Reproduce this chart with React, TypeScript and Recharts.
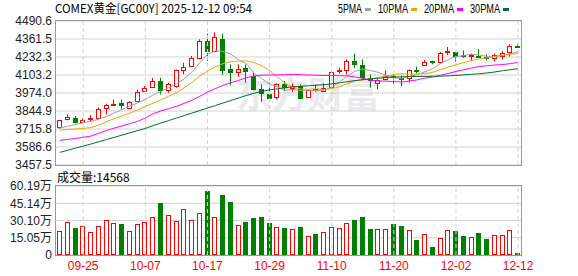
import React from 'react';
import { ComposedChart, Bar, Line, XAxis, YAxis, CartesianGrid, ReferenceLine } from 'recharts';

const dates = [
  '09-22', '09-23', '09-24', '09-25', '09-26', '09-29', '09-30', '10-01', '10-02', '10-03',
  '10-06', '10-07', '10-08', '10-09', '10-10', '10-13', '10-14', '10-15', '10-16', '10-17',
  '10-20', '10-21', '10-22', '10-23', '10-24', '10-27', '10-28', '10-29', '10-30', '10-31',
  '11-03', '11-04', '11-05', '11-06', '11-07', '11-10', '11-11', '11-12', '11-13', '11-14',
  '11-17', '11-18', '11-19', '11-20', '11-21', '11-24', '11-25', '11-26', '11-27', '11-28',
  '12-01', '12-02', '12-03', '12-04', '12-05', '12-08', '12-09', '12-10', '12-11', '12-12',
];

const opens = [
  3730, 3790, 3797, 3770, 3782, 3797, 3864, 3890, 3900, 3869,
  3921, 3988, 4017, 4062, 3996, 4024, 4136, 4168, 4227, 4347,
  4272, 4365, 4143, 4125, 4151, 4096, 4005, 3969, 3950, 4036,
  4007, 4024, 3945, 4005, 3993, 4017, 4132, 4136, 4204, 4175,
  4084, 4048, 4072, 4096, 4082, 4077, 4136, 4175, 4206, 4197,
  4268, 4270, 4244, 4235, 4240, 4232, 4222, 4244, 4270, 4313,
];
const closes = [
  3780, 3802, 3770, 3782, 3792, 3861, 3888, 3897, 3885, 3910,
  3983, 4012, 4062, 3996, 4041, 4136, 4161, 4227, 4347, 4273,
  4376, 4143, 4125, 4148, 4132, 4000, 3976, 3940, 4041, 4012,
  4024, 3940, 3993, 3998, 4012, 4125, 4136, 4204, 4179, 4089,
  4069, 4069, 4093, 4089, 4075, 4136, 4132, 4199, 4197, 4263,
  4275, 4244, 4237, 4244, 4235, 4227, 4244, 4263, 4313, 4308,
];
const highs = [
  3782, 3821, 3809, 3792, 3816, 3869, 3897, 3926, 3926, 3917,
  3998, 4024, 4082, 4084, 4048, 4143, 4191, 4240, 4359, 4400,
  4409, 4400, 4179, 4179, 4179, 4127, 4036, 4048, 4043, 4060,
  4043, 4036, 3993, 4036, 4043, 4132, 4156, 4215, 4256, 4215,
  4108, 4077, 4136, 4108, 4100, 4143, 4163, 4211, 4206, 4268,
  4304, 4270, 4280, 4256, 4290, 4251, 4256, 4275, 4323, 4323,
];
const lows = [
  3718, 3778, 3756, 3766, 3773, 3792, 3821, 3883, 3854, 3861,
  3917, 3983, 4012, 3964, 3976, 4012, 4108, 4161, 4220, 4204,
  4268, 4103, 4029, 4089, 4048, 3993, 3912, 3933, 3928, 3988,
  3983, 3940, 3940, 3983, 3988, 4012, 4113, 4108, 4151, 4072,
  4012, 4000, 4064, 4041, 4024, 4048, 4115, 4172, 4179, 4191,
  4247, 4199, 4227, 4204, 4232, 4208, 4199, 4215, 4235, 4299,
];

// 成交量 (万)
const volumes = [
  20.9, 28.8, 23.6, 25.0, 20.1, 25.0, 30.3, 27.9, 27.0, 20.7,
  27.0, 28.8, 32.9, 45.4, 34.6, 29.4, 39.9, 30.3, 36.4, 55.8,
  32.9, 52.3, 46.2, 25.9, 28.8, 32.3, 32.9, 28.2, 24.2, 23.6,
  22.4, 24.4, 16.6, 18.6, 20.1, 24.4, 23.3, 27.9, 30.5, 33.1,
  22.7, 22.4, 22.4, 27.0, 25.3, 21.5, 13.1, 18.1, 7.0, 14.6,
  21.5, 20.9, 16.6, 15.4, 19.2, 14.0, 17.2, 17.2, 21.5, 1.46,
];

const ma5 = [
  3723, 3735, 3748, 3760, 3772, 3786, 3806, 3830, 3855, 3880,
  3903, 3928, 3960, 3985, 4012, 4040, 4075, 4125, 4190, 4250,
  4277, 4273, 4252, 4213, 4185, 4115, 4076, 4039, 4018, 3994,
  3999, 3991, 3990, 3992, 3993, 4014, 4053, 4095, 4131, 4146,
  4135, 4122, 4100, 4082, 4079, 4092, 4105, 4126, 4148, 4185,
  4213, 4235, 4243, 4252, 4247, 4237, 4237, 4243, 4256, 4271,
];
const ma10 = [
  3708, 3712, 3716, 3720, 3726, 3745, 3768, 3790, 3810, 3830,
  3852, 3878, 3900, 3925, 3950, 3976, 4010, 4050, 4095, 4132,
  4160, 4185, 4198, 4203, 4205, 4192, 4170, 4135, 4090, 4042,
  4015, 4003, 4000, 4005, 3998, 4006, 4020, 4040, 4062, 4068,
  4075, 4085, 4097, 4105, 4113, 4108, 4110, 4114, 4122, 4142,
  4160, 4177, 4192, 4207, 4219, 4226, 4234, 4244, 4252, 4257,
];
const ma20 = [
  3634, 3641, 3648, 3656, 3665, 3685, 3705, 3722, 3738, 3754,
  3770, 3795, 3825, 3845, 3862, 3878, 3900, 3922, 3950, 3980,
  4005, 4029, 4048, 4064, 4084, 4096, 4102, 4103, 4104, 4105,
  4108, 4105, 4103, 4102, 4100, 4100, 4098, 4097, 4089, 4080,
  4064, 4061, 4059, 4056, 4053, 4060, 4068, 4081, 4088, 4101,
  4114, 4129, 4141, 4153, 4164, 4169, 4175, 4178, 4185, 4193,
];
const ma30 = [
  3548, 3563, 3578, 3593, 3608, 3624, 3640, 3656, 3672, 3688,
  3704, 3720, 3740, 3758, 3776, 3794, 3812, 3830, 3848, 3866,
  3884, 3902, 3920, 3938, 3956, 3972, 3986, 3996, 4004, 4012,
  4018, 4022, 4026, 4030, 4034, 4040, 4047, 4055, 4063, 4070,
  4076, 4080, 4085, 4088, 4090, 4092, 4093, 4093, 4094, 4095,
  4097, 4100, 4104, 4108, 4112, 4118, 4125, 4134, 4141, 4148,
];

const priceTicks = [3457.5, 3586.6, 3715.8, 3844.9, 3974.0, 4103.2, 4232.3, 4361.5, 4490.6];
const volTicks = [0, 15.05, 30.10, 45.14, 60.19];
const dateTicks = ['09-25', '10-07', '10-17', '10-29', '11-10', '11-20', '12-02', '12-12'];

const title = 'COMEX黄金[GC00Y] 2025-12-12 09:54';
const lastVolume = 14568;

const maSeries = [
  { key: 'ma5', name: '5PMA', color: '#a0a0a0' },
  { key: 'ma10', name: '10PMA', color: '#f5a300' },
  { key: 'ma20', name: '20PMA', color: '#ff00ff' },
  { key: 'ma30', name: '30PMA', color: '#006e35' },
];

const UP = '#ff0000';
const DOWN = '#008000';
const GRID = '#d2d2d2';
const FRAME = '#999999';

const W = 578;
const PLOT_L = 56;
const PLOT_R = 56;
const MAIN_H = 182;
const MAIN_TOP = 21;
const MAIN_BOTTOM = 17; // plot bottom at y=165, room left for the last tick label
const VOL_Y = 170;
const VOL_H = 106;
const VOL_TOP = 16;
const VOL_AXIS_H = 21;

const rows = dates.map((date, i) => ({
  date,
  open: opens[i],
  close: closes[i],
  high: highs[i],
  low: lows[i],
  range: [lows[i], highs[i]],
  vol: volumes[i],
  up: closes[i] >= opens[i],
  ma5: ma5[i],
  ma10: ma10[i],
  ma20: ma20[i],
  ma30: ma30[i],
}));

const axisFont = "'Liberation Sans', Arial, 'Noto Sans CJK SC', sans-serif";

function Candle(props: any) {
  const { x, y, width, height, payload } = props;
  if (x == null || y == null) return null;
  const top = Math.min(y, y + height);
  const h = Math.abs(height);
  const span = payload.high - payload.low || 1;
  const toY = (v: number) => top + ((payload.high - v) / span) * h;
  const cx = Math.floor(x + width / 2) + 0.5;
  const yO = toY(payload.open);
  const yC = toY(payload.close);
  const bTop = Math.round(Math.min(yO, yC)) + 0.5;
  const bH = Math.max(Math.round(Math.abs(yO - yC)), 1);
  const color = payload.up ? UP : DOWN;
  return (
    <g>
      <line x1={cx} x2={cx} y1={top} y2={top + h} stroke={color} />
      <rect x={cx - 2} y={bTop} width={4} height={bH} fill={payload.up ? '#fff' : color} stroke={color} />
    </g>
  );
}

function VolBar(props: any) {
  const { x, y, width, height, payload } = props;
  if (x == null || y == null) return null;
  const cx = Math.floor(x + width / 2) + 0.5;
  const top = Math.round(Math.min(y, y + height)) + 0.5;
  const bottom = Math.round(Math.max(y, y + height)) - 0.5;
  const color = payload.up ? UP : DOWN;
  return (
    <rect x={cx - 2} y={top} width={4} height={Math.max(bottom - top, 0.5)} fill={payload.up ? '#fff' : color} stroke={color} />
  );
}

function Legend() {
  let cursor = 338;
  return (
    <g>
      {maSeries.map((m) => {
        const tx = cursor;
        const tw = m.name.length * 6;
        const sx = tx + tw + 3;
        cursor = sx + 6 + 7;
        return (
          <g key={m.key}>
            <text x={tx} y={13} fontSize={12} fill="#000" fontFamily="'Liberation Sans', Arial" textLength={tw} lengthAdjust="spacingAndGlyphs">
              {m.name}
            </text>
            <rect x={sx} y={8} width={6} height={3} fill={m.color} />
          </g>
        );
      })}
    </g>
  );
}

export default function App() {
  const plotW = W - PLOT_L - PLOT_R;
  const mainPlotH = MAIN_H - MAIN_TOP - MAIN_BOTTOM;
  const volPlotH = VOL_H - VOL_TOP - VOL_AXIS_H;
  const tickStyle = { fill: '#222', fontSize: 12, fontFamily: axisFont };

  return (
    <div style={{ position: 'absolute', left: 0, top: 0, width: W, height: 276, background: '#fff', overflow: 'hidden' }}>
      {/* watermark */}
      <svg width={W} height={276} style={{ position: 'absolute', left: 0, top: 0 }}>
        <text x={236} y={108} fontSize={36} fontWeight="bold" fill="#e9e9ee" fontFamily="'Noto Sans CJK SC', sans-serif">
          东方财富
        </text>
      </svg>

      <div style={{ position: 'absolute', left: 0, top: VOL_Y }}>
        <ComposedChart width={W} height={VOL_H} data={rows} margin={{ top: VOL_TOP, right: PLOT_R, bottom: 0, left: 0 }}>
          <CartesianGrid vertical={false} stroke={GRID} />
          <XAxis
            dataKey="date"
            ticks={dateTicks}
            interval={0}
            height={VOL_AXIS_H}
            axisLine={false}
            tickLine={false}
            tickSize={0}
            tickMargin={6}
            tick={{ fill: '#ff0000', fontSize: 12, fontFamily: axisFont }}
          />
          <YAxis
            domain={[0, 60.19]}
            ticks={volTicks}
            interval={0}
            allowDataOverflow
            width={PLOT_L}
            axisLine={false}
            tickLine={false}
            tickSize={0}
            tickMargin={4}
            tick={tickStyle}
            tickFormatter={(v: number) => (v === 0 ? '0' : v.toFixed(2) + '万')}
          />
          {dateTicks.map((d) => (
            <ReferenceLine key={d} x={d} stroke={GRID} strokeDasharray="4 3" />
          ))}
          <Bar dataKey="vol" barSize={5} shape={VolBar} isAnimationActive={false} />
        </ComposedChart>
      </div>

      <div style={{ position: 'absolute', left: 0, top: 0 }}>
        <ComposedChart width={W} height={MAIN_H} data={rows} margin={{ top: MAIN_TOP, right: PLOT_R, bottom: MAIN_BOTTOM, left: 0 }}>
          <CartesianGrid vertical={false} stroke={GRID} />
          <XAxis dataKey="date" hide />
          <YAxis
            domain={[3457.5, 4490.6]}
            ticks={priceTicks}
            interval={0}
            allowDataOverflow
            width={PLOT_L}
            axisLine={false}
            tickLine={false}
            tickSize={0}
            tickMargin={4}
            tick={tickStyle}
            tickFormatter={(v: number) => v.toFixed(1)}
          />
          {dateTicks.map((d) => (
            <ReferenceLine key={d} x={d} stroke={GRID} strokeDasharray="4 3" />
          ))}
          <Bar dataKey="range" barSize={5} shape={Candle} isAnimationActive={false} />
          {maSeries.map((m) => (
            <Line key={m.key} type="linear" dataKey={m.key} stroke={m.color} strokeWidth={1} dot={false} activeDot={false} isAnimationActive={false} />
          ))}
        </ComposedChart>
      </div>

      {/* frames, title, legend, volume label */}
      <svg width={W} height={276} style={{ position: 'absolute', left: 0, top: 0, pointerEvents: 'none' }}>
        <rect x={PLOT_L - 0.5} y={MAIN_TOP - 0.5} width={plotW} height={mainPlotH + 1} fill="none" stroke={FRAME} />
        <rect x={PLOT_L - 0.5} y={VOL_Y + VOL_TOP - 0.5} width={plotW} height={volPlotH + 1} fill="none" stroke={FRAME} />
        <text x={55} y={13} fontSize={12} fill="#000" fontFamily="'Noto Sans CJK SC', sans-serif" textLength={197} lengthAdjust="spacingAndGlyphs">
          {title}
        </text>
        <Legend />
        <text x={57} y={182} fontSize={12} fill="#000" fontFamily="'Noto Sans CJK SC', sans-serif">
          {`成交量:${lastVolume}`}
        </text>
      </svg>
    </div>
  );
}
